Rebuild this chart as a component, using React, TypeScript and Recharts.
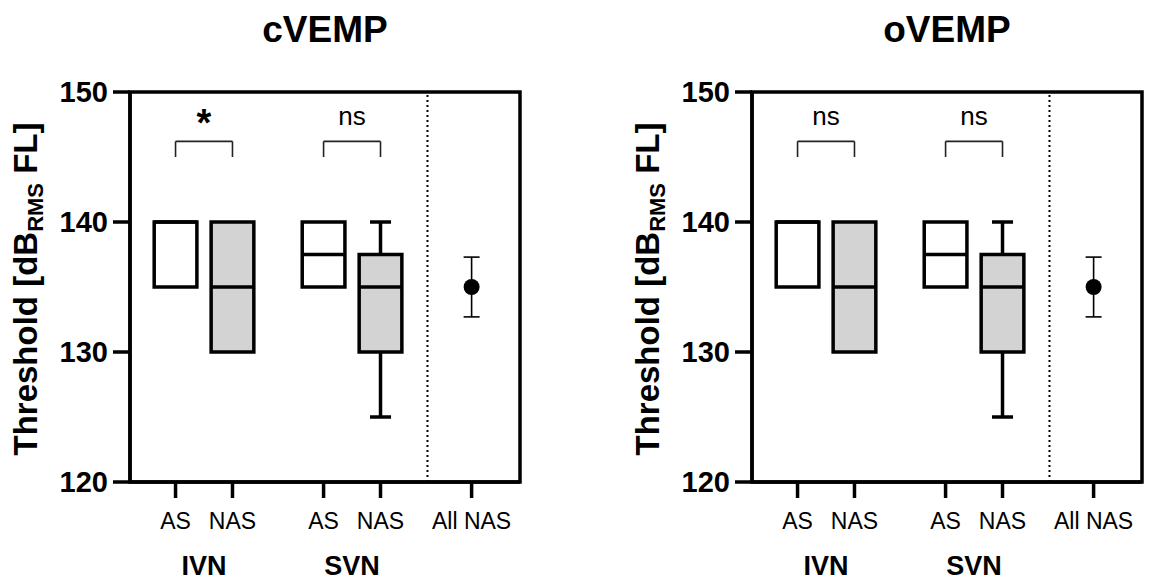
import { ComposedChart, XAxis, YAxis, Scatter, ErrorBar, ReferenceArea, ReferenceLine } from 'recharts'

const FONT = '"Liberation Sans", Arial, Helvetica, sans-serif'

// x layout: column positions on a numeric axis so the group gaps match
const categories = ['AS', 'NAS', 'AS', 'NAS', 'All NAS']
const positions = [1.6, 3.6, 6.8, 8.8, 12.0]
const groups = ['IVN', 'SVN']
const groupPositions = [2.6, 7.8]
const dividerX = 10.45
const xMax = 13.7
const yTicks = [120, 130, 140, 150]

// box stats for the four AS / NAS columns (same in both panels)
const whiskerLow = [135, 130, 135, 125]
const q1 = [135, 130, 135, 130]
const median = [140, 135, 137.5, 135]
const q3 = [140, 140, 140, 137.5]
const whiskerHigh = [140, 140, 140, 140]
const boxFill = ['#ffffff', '#d3d3d3', '#ffffff', '#d3d3d3']

// All NAS: mean +/- SD
const allNasMean = 135
const allNasError = 2.3

// significance brackets
const bracketLow = 145
const bracketHigh = 146.2
const cvempSig = ['*', 'ns']
const ovempSig = ['ns', 'ns']

const BOX_HALF = 0.75
const CAP_HALF = 0.37
const LW = 3.5

function renderYLabel(props: any) {
  const vb = props.viewBox
  const x = vb.x + 37
  const y = vb.y + vb.height / 2 + 2
  return (
    <text
      x={x}
      y={y}
      transform={`rotate(-90, ${x}, ${y})`}
      textAnchor="middle"
      fontSize={33}
      fontWeight={700}
      fill="#000"
      fontFamily={FONT}
    >
      Threshold [dB
      <tspan fontSize={22} dy={6}>RMS</tspan>
      <tspan dy={-6}> FL]</tspan>
    </text>
  )
}

function Panel({ title, sig, left }: { title: string; sig: string[]; left: number }) {
  const meanData = [{ x: positions[4], y: allNasMean, err: allNasError }]

  return (
    <div style={{ position: 'absolute', left, top: 0, width: 560, height: 581 }}>
      <div
        style={{
          position: 'absolute',
          top: 11,
          left: 130,
          width: 390,
          textAlign: 'center',
          fontSize: 37,
          lineHeight: 1,
          fontWeight: 700
        }}
      >
        {title}
      </div>
      <ComposedChart width={560} height={581} margin={{ top: 92, right: 40, bottom: 0, left: 0 }}>
        <XAxis
          dataKey="x"
          type="number"
          domain={[0, xMax]}
          ticks={positions}
          interval={0}
          tickFormatter={(v: number) => categories[positions.indexOf(v)] ?? ''}
          height={60}
          tickSize={16}
          tickMargin={15}
          axisLine={{ stroke: '#000', strokeWidth: LW }}
          tickLine={{ stroke: '#000', strokeWidth: LW }}
          tick={{ fill: '#000', fontSize: 23 }}
          allowDataOverflow
        />
        <XAxis
          xAxisId="group"
          dataKey="x"
          type="number"
          domain={[0, xMax]}
          ticks={groupPositions}
          interval={0}
          tickFormatter={(v: number) => groups[groupPositions.indexOf(v)] ?? ''}
          height={39}
          tickSize={0}
          tickMargin={14}
          axisLine={false}
          tickLine={false}
          tick={{ fill: '#000', fontSize: 27, fontWeight: 700 }}
          allowDataOverflow
        />
        <YAxis
          dataKey="y"
          type="number"
          domain={[120, 150]}
          ticks={yTicks}
          interval={0}
          width={130}
          tickSize={17}
          tickMargin={5}
          axisLine={{ stroke: '#000', strokeWidth: LW }}
          tickLine={{ stroke: '#000', strokeWidth: LW }}
          tick={{ fill: '#000', fontSize: 29, fontWeight: 700 }}
          label={renderYLabel}
          allowDataOverflow
        />

        {/* frame */}
        <ReferenceArea x1={0} x2={xMax} y1={120} y2={150} fill="none" stroke="#000" strokeWidth={LW} />

        {/* dotted divider before All NAS */}
        <ReferenceLine x={dividerX} stroke="#000" strokeWidth={2} strokeDasharray="2 3" />

        {/* whiskers */}
        {positions.slice(0, 4).map((p, i) => (
          <g key={`w${i}`}>
            {whiskerHigh[i] > q3[i] && (
              <>
                <ReferenceLine segment={[{ x: p, y: q3[i] }, { x: p, y: whiskerHigh[i] }]} stroke="#000" strokeWidth={LW} />
                <ReferenceLine segment={[{ x: p - CAP_HALF, y: whiskerHigh[i] }, { x: p + CAP_HALF, y: whiskerHigh[i] }]} stroke="#000" strokeWidth={LW} />
              </>
            )}
            {whiskerLow[i] < q1[i] && (
              <>
                <ReferenceLine segment={[{ x: p, y: q1[i] }, { x: p, y: whiskerLow[i] }]} stroke="#000" strokeWidth={LW} />
                <ReferenceLine segment={[{ x: p - CAP_HALF, y: whiskerLow[i] }, { x: p + CAP_HALF, y: whiskerLow[i] }]} stroke="#000" strokeWidth={LW} />
              </>
            )}
          </g>
        ))}

        {/* boxes */}
        {positions.slice(0, 4).map((p, i) => (
          <ReferenceArea
            key={`b${i}`}
            x1={p - BOX_HALF}
            x2={p + BOX_HALF}
            y1={q1[i]}
            y2={q3[i]}
            fill={boxFill[i]}
            fillOpacity={1}
            stroke="#000"
            strokeWidth={LW}
          />
        ))}

        {/* medians */}
        {positions.slice(0, 4).map((p, i) => (
          <ReferenceLine
            key={`m${i}`}
            segment={[{ x: p - BOX_HALF, y: median[i] }, { x: p + BOX_HALF, y: median[i] }]}
            stroke="#000"
            strokeWidth={LW}
          />
        ))}

        {/* significance brackets */}
        {[0, 1].map((g) => {
          const a = positions[g * 2]
          const b = positions[g * 2 + 1]
          const star = sig[g] === '*'
          return (
            <g key={`s${g}`}>
              <ReferenceLine segment={[{ x: a, y: bracketLow }, { x: a, y: bracketHigh }]} stroke="#222" strokeWidth={1.6} />
              <ReferenceLine segment={[{ x: b, y: bracketLow }, { x: b, y: bracketHigh }]} stroke="#222" strokeWidth={1.6} />
              <ReferenceLine
                segment={[{ x: a, y: bracketHigh }, { x: b, y: bracketHigh }]}
                stroke="#222"
                strokeWidth={1.6}
                label={{
                  value: sig[g],
                  position: 'top',
                  offset: star ? 5 : 16,
                  fontSize: star ? 38 : 26,
                  fontWeight: star ? 700 : 400,
                  fill: '#000'
                }}
              />
            </g>
          )
        })}

        {/* All NAS mean +/- SD */}
        <Scatter
          data={meanData}
          isAnimationActive={false}
          shape={(p: any) => <circle cx={p.cx} cy={p.cy} r={8} fill="#000" />}
        >
          <ErrorBar dataKey="err" direction="y" width={8} stroke="#000" strokeWidth={1.6} isAnimationActive={false} />
        </Scatter>
      </ComposedChart>
    </div>
  )
}

export default function App() {
  return (
    <div
      style={{
        position: 'absolute',
        left: 0,
        top: 0,
        width: 1155,
        height: 581,
        background: '#fff',
        fontFamily: FONT,
        color: '#000'
      }}
    >
      <Panel title="cVEMP" sig={cvempSig} left={0} />
      <Panel title="oVEMP" sig={ovempSig} left={622} />
    </div>
  )
}
